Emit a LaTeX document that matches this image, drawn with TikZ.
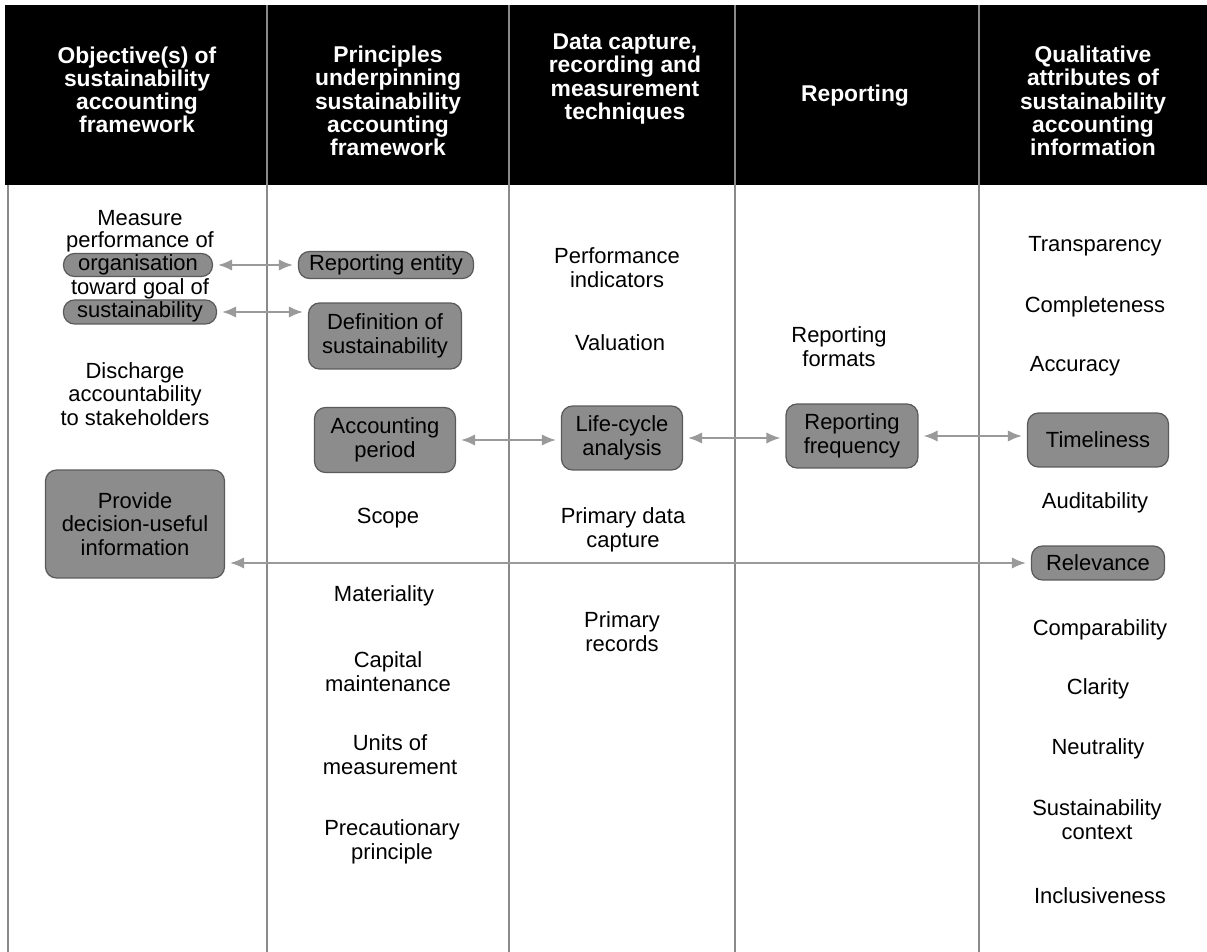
\documentclass[tikz,border=0pt]{standalone}
\usepackage{fontspec}
\setmainfont{Liberation Sans}
\usetikzlibrary{arrows.meta}
\definecolor{boxgray}{HTML}{8C8C8C}
\definecolor{edgegray}{HTML}{5A5A5A}
\definecolor{rulegray}{HTML}{8A8A8A}
\definecolor{arrowgray}{HTML}{9A9A9A}
\tikzset{
  hdr/.style={text=white, align=center, font=\bfseries\fontsize{13}{13.2}\selectfont},
  txt/.style={align=center, font=\fontsize{12.5}{13.5}\selectfont, inner sep=0pt},
  gbox/.style={draw=edgegray, line width=0.7pt, fill=boxgray, rounded corners=0.22cm,
    align=center, inner sep=0pt, font=\fontsize{12.5}{13.5}\selectfont},
  pill/.style={gbox, rounded corners=0.22cm},
  link/.style={draw=arrowgray, line width=1.1pt, {Latex[length=8pt,width=6.5pt]}-{Latex[length=8pt,width=6.5pt]},
    shorten >=0.1cm, shorten <=0.1cm},
  colrule/.style={draw=rulegray, line width=0.9pt}
}
\begin{document}
\begin{tikzpicture}[x=0.02cm, y=-0.02cm]
        \useasboundingbox (0,0) rectangle (1207,952);
        % header band and column rules
        \fill[black] (5,5) rectangle (1207,185);
        \draw[colrule] (8,185) -- (8,952);
        \foreach \xr in {267,509,735,979}
            \draw[colrule] (\xr,5) -- (\xr,952);
        \node[hdr] (h1) at (137,90) {Objective(s) of\\sustainability\\accounting\\framework};
        \node[hdr] (h2) at (388,101) {Principles\\underpinning\\sustainability\\accounting\\framework};
        \node[hdr] (h3) at (625,79) {Data capture,\\recording and\\measurement\\techniques};
        \node[hdr] (h4) at (855,96) {Reporting};
        \node[hdr] (h5) at (1093,101) {Qualitative\\attributes of\\sustainability\\accounting\\information};
        % objectives
        \node[txt] (meas) at (140,218) {Measure};
        \node[txt] (perf) at (140,242) {performance of};
        \node[pill, minimum width=2.98cm, minimum height=0.46cm] (org) at (138,265) {organisation};
        \node[txt] (goal) at (140,289) {toward goal of};
        \node[pill, minimum width=3.06cm, minimum height=0.48cm] (sust) at (140,312) {sustainability};
        \node[txt] (disch) at (135,394) {Discharge\\accountability\\to stakeholders};
        \node[gbox, minimum width=3.58cm, minimum height=2.16cm] (prov) at (135,524) {Provide\\decision-useful\\information};
        % principles
        \node[pill, minimum width=3.5cm, minimum height=0.54cm] (entity) at (386,265) {Reporting entity};
        \node[gbox, minimum width=3.06cm, minimum height=1.32cm] (defn) at (385,336) {Definition of\\sustainability};
        \node[gbox, minimum width=2.82cm, minimum height=1.3cm] (accp) at (385,440) {Accounting\\period};
        \node[txt] (scope) at (388,518) {Scope};
        \node[txt] (mater) at (384,596) {Materiality};
        \node[txt] (capm) at (388,672) {Capital\\maintenance};
        \node[txt] (units) at (390,755) {Units of\\measurement};
        \node[txt] (prec) at (392,842) {Precautionary\\principle};
        % data capture
        \node[txt] (pind) at (617,268) {Performance\\indicators};
        \node[txt] (valu) at (620,343) {Valuation};
        \node[gbox, minimum width=2.42cm, minimum height=1.28cm] (lca) at (622,438) {Life-cycle\\analysis};
        \node[txt] (pdc) at (623,530) {Primary data\\capture};
        \node[txt] (prec2) at (622,632) {Primary\\records};
        % reporting
        \node[txt] (rform) at (839,347) {Reporting\\formats};
        \node[gbox, minimum width=2.64cm, minimum height=1.28cm] (rfreq) at (852,436) {Reporting\\frequency};
        % qualitative attributes
        \node[txt] (transp) at (1095,246) {Transparency};
        \node[txt] (compl) at (1095,307) {Completeness};
        \node[txt] (accur) at (1075,366) {Accuracy};
        \node[gbox, minimum width=2.82cm, minimum height=1.08cm] (timel) at (1098,440) {Timeliness};
        \node[txt] (audit) at (1095,503) {Auditability};
        \node[pill, minimum width=2.66cm, minimum height=0.68cm] (relev) at (1098,563) {Relevance};
        \node[txt] (compa) at (1100,630) {Comparability};
        \node[txt] (clar) at (1098,689) {Clarity};
        \node[txt] (neut) at (1098,749) {Neutrality};
        \node[txt] (sctx) at (1097,820) {Sustainability\\context};
        \node[txt] (incl) at (1100,896) {Inclusiveness};
        % links
        \draw[link] (org.east) -- (org.east -| entity.west);
        \draw[link] (sust.east) -- (sust.east -| defn.west);
        \draw[link] (accp.east) -- (accp.east -| lca.west);
        \draw[link] (lca.east) -- (lca.east -| rfreq.west);
        \draw[link] (rfreq.east) -- (rfreq.east -| timel.west);
        \draw[link] (relev.west -| prov.east) -- (relev.west);
\end{tikzpicture}
\end{document}
